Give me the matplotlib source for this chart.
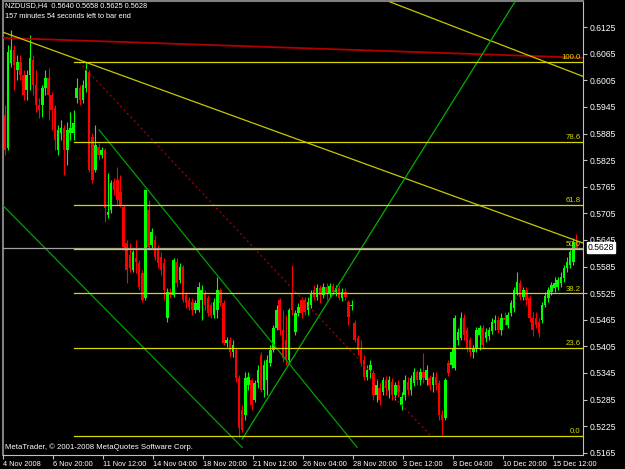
import matplotlib
matplotlib.use("Agg")
import matplotlib.pyplot as plt
import matplotlib.transforms as mtransforms

# NZDUSD H4 candles, bar 0 = 4 Nov 2008 00:00
opens = [
	0.5927, 0.5852, 0.6044, 0.6073, 0.6028, 0.6046, 0.6017, 0.5983, 0.6017, 0.6051,
	0.5994, 0.5949, 0.5949, 0.5987, 0.6010, 0.5972, 0.5942, 0.5848, 0.5886, 0.5897,
	0.5848, 0.5886, 0.5886, 0.5965, 0.5987, 0.5960, 0.5987, 0.6023, 0.5877, 0.5802,
	0.5854, 0.5836, 0.5848, 0.5701, 0.5712, 0.5775, 0.5780, 0.5753, 0.5719, 0.5638,
	0.5611, 0.5577, 0.5604, 0.5593, 0.5570, 0.5514, 0.5712, 0.5633, 0.5645, 0.5622,
	0.5606, 0.5593, 0.5468, 0.5527, 0.5520, 0.5595, 0.5554, 0.5584, 0.5520, 0.5509,
	0.5505, 0.5487, 0.5487, 0.5509, 0.5525, 0.5514, 0.5498, 0.5475, 0.5487, 0.5532,
	0.5502, 0.5412, 0.5419, 0.5392, 0.5396, 0.5333, 0.5261, 0.5250, 0.5317, 0.5329,
	0.5284, 0.5322, 0.5385, 0.5306, 0.5329, 0.5367, 0.5396, 0.5446, 0.5509, 0.5442,
	0.5419, 0.5374, 0.5525, 0.5437, 0.5480, 0.5509, 0.5509, 0.5487, 0.5498, 0.5532,
	0.5516, 0.5536, 0.5520, 0.5538, 0.5525, 0.5541, 0.5527, 0.5536, 0.5514, 0.5527,
	0.5505, 0.5496, 0.5457, 0.5423, 0.5396, 0.5374, 0.5336, 0.5351, 0.5345, 0.5295,
	0.5311, 0.5302, 0.5329, 0.5306, 0.5324, 0.5295, 0.5317, 0.5272, 0.5295, 0.5324,
	0.5306, 0.5322, 0.5347, 0.5329, 0.5347, 0.5329, 0.5333, 0.5317, 0.5336, 0.5322,
	0.5250, 0.5243, 0.5367, 0.5363, 0.5356, 0.5419, 0.5423, 0.5469, 0.5442, 0.5419,
	0.5392, 0.5401, 0.5430, 0.5446, 0.5423, 0.5428, 0.5439, 0.5457, 0.5464, 0.5442,
	0.5469, 0.5453, 0.5480, 0.5491, 0.5525, 0.5548, 0.5516, 0.5532, 0.5514, 0.5469,
	0.5469, 0.5460, 0.5464, 0.5498, 0.5514, 0.5527, 0.5536, 0.5538, 0.5548, 0.5559,
	0.5581, 0.5588, 0.5595, 0.5640,
]
closes = [
	0.5848, 0.6069, 0.6073, 0.6039, 0.6046, 0.6017, 0.5972, 0.6017, 0.6055, 0.5994,
	0.5949, 0.5938, 0.5987, 0.6010, 0.5972, 0.5938, 0.5870, 0.5893, 0.5897, 0.5848,
	0.5893, 0.5897, 0.5908, 0.5987, 0.5960, 0.5994, 0.6028, 0.5802, 0.5780, 0.5859,
	0.5836, 0.5848, 0.5717, 0.5708, 0.5773, 0.5757, 0.5735, 0.5723, 0.5629, 0.5577,
	0.5581, 0.5617, 0.5595, 0.5538, 0.5509, 0.5757, 0.5629, 0.5663, 0.5606, 0.5593,
	0.5577, 0.5532, 0.5527, 0.5520, 0.5599, 0.5548, 0.5584, 0.5509, 0.5502, 0.5493,
	0.5487, 0.5502, 0.5538, 0.5532, 0.5498, 0.5480, 0.5475, 0.5505, 0.5532, 0.5502,
	0.5412, 0.5419, 0.5392, 0.5408, 0.5333, 0.5220, 0.5216, 0.5333, 0.5336, 0.5272,
	0.5322, 0.5351, 0.5306, 0.5363, 0.5374, 0.5396, 0.5446, 0.5487, 0.5442, 0.5378,
	0.5374, 0.5487, 0.5487, 0.5480, 0.5493, 0.5480, 0.5482, 0.5505, 0.5525, 0.5516,
	0.5536, 0.5520, 0.5538, 0.5525, 0.5541, 0.5527, 0.5536, 0.5514, 0.5527, 0.5516,
	0.5471, 0.5498, 0.5419, 0.5396, 0.5367, 0.5336, 0.5351, 0.5363, 0.5295, 0.5317,
	0.5284, 0.5329, 0.5311, 0.5329, 0.5295, 0.5317, 0.5302, 0.5290, 0.5329, 0.5306,
	0.5333, 0.5347, 0.5329, 0.5347, 0.5333, 0.5351, 0.5317, 0.5336, 0.5317, 0.5250,
	0.5239, 0.5329, 0.5345, 0.5392, 0.5469, 0.5437, 0.5469, 0.5430, 0.5401, 0.5392,
	0.5401, 0.5442, 0.5446, 0.5408, 0.5437, 0.5442, 0.5460, 0.5464, 0.5442, 0.5469,
	0.5464, 0.5475, 0.5502, 0.5532, 0.5550, 0.5516, 0.5532, 0.5509, 0.5469, 0.5442,
	0.5453, 0.5435, 0.5498, 0.5518, 0.5532, 0.5543, 0.5548, 0.5554, 0.5561, 0.5581,
	0.5595, 0.5617, 0.5640, 0.5628,
]
highs = [
	0.5949, 0.6084, 0.6118, 0.6084, 0.6062, 0.6062, 0.6028, 0.6028, 0.6107, 0.6062,
	0.6028, 0.5965, 0.5994, 0.6028, 0.6033, 0.5978, 0.5949, 0.5904, 0.5915, 0.5904,
	0.5911, 0.5933, 0.5938, 0.6010, 0.5994, 0.6005, 0.6046, 0.6028, 0.5886, 0.5904,
	0.5863, 0.5854, 0.5852, 0.5796, 0.5780, 0.5784, 0.5809, 0.5791, 0.5723, 0.5645,
	0.5638, 0.5622, 0.5645, 0.5599, 0.5577, 0.5757, 0.5735, 0.5672, 0.5656, 0.5633,
	0.5617, 0.5604, 0.5536, 0.5536, 0.5604, 0.5604, 0.5593, 0.5588, 0.5527, 0.5516,
	0.5514, 0.5509, 0.5550, 0.5543, 0.5532, 0.5520, 0.5505, 0.5514, 0.5561, 0.5536,
	0.5509, 0.5426, 0.5426, 0.5419, 0.5401, 0.5340, 0.5272, 0.5347, 0.5347, 0.5333,
	0.5329, 0.5363, 0.5392, 0.5374, 0.5385, 0.5408, 0.5453, 0.5498, 0.5514, 0.5487,
	0.5475, 0.5491, 0.5588, 0.5487, 0.5502, 0.5516, 0.5516, 0.5516, 0.5532, 0.5543,
	0.5545, 0.5543, 0.5548, 0.5548, 0.5548, 0.5548, 0.5543, 0.5543, 0.5536, 0.5536,
	0.5509, 0.5509, 0.5464, 0.5430, 0.5419, 0.5385, 0.5363, 0.5374, 0.5351, 0.5329,
	0.5322, 0.5336, 0.5338, 0.5338, 0.5333, 0.5324, 0.5329, 0.5302, 0.5340, 0.5336,
	0.5340, 0.5356, 0.5351, 0.5356, 0.5390, 0.5363, 0.5340, 0.5347, 0.5347, 0.5329,
	0.5261, 0.5333, 0.5374, 0.5401, 0.5475, 0.5446, 0.5482, 0.5478, 0.5448, 0.5426,
	0.5408, 0.5448, 0.5453, 0.5453, 0.5446, 0.5448, 0.5469, 0.5475, 0.5473, 0.5480,
	0.5482, 0.5482, 0.5509, 0.5538, 0.5572, 0.5554, 0.5538, 0.5538, 0.5520, 0.5482,
	0.5482, 0.5469, 0.5505, 0.5527, 0.5538, 0.5550, 0.5561, 0.5561, 0.5572, 0.5588,
	0.5606, 0.5622, 0.5649, 0.5658,
]
lows = [
	0.5836, 0.5848, 0.6035, 0.5983, 0.6005, 0.6005, 0.5960, 0.5960, 0.5983, 0.5972,
	0.5933, 0.5920, 0.5922, 0.5972, 0.5915, 0.5893, 0.5848, 0.5836, 0.5870, 0.5791,
	0.5814, 0.5870, 0.5870, 0.5954, 0.5949, 0.5954, 0.5978, 0.5798, 0.5773, 0.5798,
	0.5825, 0.5830, 0.5685, 0.5694, 0.5705, 0.5746, 0.5723, 0.5719, 0.5622, 0.5548,
	0.5572, 0.5572, 0.5570, 0.5532, 0.5505, 0.5509, 0.5622, 0.5627, 0.5599, 0.5581,
	0.5566, 0.5509, 0.5460, 0.5514, 0.5516, 0.5538, 0.5548, 0.5505, 0.5491, 0.5487,
	0.5475, 0.5480, 0.5482, 0.5464, 0.5487, 0.5473, 0.5469, 0.5469, 0.5469, 0.5496,
	0.5408, 0.5403, 0.5381, 0.5381, 0.5324, 0.5200, 0.5211, 0.5239, 0.5306, 0.5261,
	0.5279, 0.5311, 0.5302, 0.5290, 0.5295, 0.5360, 0.5392, 0.5442, 0.5430, 0.5369,
	0.5363, 0.5369, 0.5475, 0.5430, 0.5473, 0.5469, 0.5475, 0.5475, 0.5491, 0.5509,
	0.5509, 0.5502, 0.5514, 0.5509, 0.5516, 0.5520, 0.5518, 0.5509, 0.5507, 0.5509,
	0.5453, 0.5487, 0.5414, 0.5385, 0.5360, 0.5329, 0.5329, 0.5333, 0.5284, 0.5279,
	0.5272, 0.5295, 0.5295, 0.5288, 0.5284, 0.5284, 0.5290, 0.5261, 0.5284, 0.5295,
	0.5295, 0.5315, 0.5317, 0.5317, 0.5322, 0.5317, 0.5306, 0.5302, 0.5306, 0.5239,
	0.5205, 0.5239, 0.5338, 0.5356, 0.5351, 0.5408, 0.5419, 0.5419, 0.5392, 0.5383,
	0.5378, 0.5392, 0.5396, 0.5401, 0.5414, 0.5419, 0.5432, 0.5442, 0.5435, 0.5430,
	0.5453, 0.5446, 0.5473, 0.5482, 0.5520, 0.5509, 0.5509, 0.5498, 0.5460, 0.5428,
	0.5446, 0.5426, 0.5457, 0.5493, 0.5505, 0.5520, 0.5527, 0.5532, 0.5538, 0.5550,
	0.5572, 0.5581, 0.5588, 0.5625,
]

# time axis labels, one every 16 bars
time_labels = ["4 Nov 2008", "6 Nov 20:00", "11 Nov 12:00", "14 Nov 04:00",
	"18 Nov 20:00", "21 Nov 12:00", "26 Nov 04:00", "28 Nov 20:00",
	"3 Dec 12:00", "8 Dec 04:00", "10 Dec 20:00", "15 Dec 12:00"]
price_ticks = [0.6125, 0.6065, 0.6005, 0.5945, 0.5885, 0.5825, 0.5765, 0.5705,
	0.5645, 0.5585, 0.5525, 0.5465, 0.5405, 0.5345, 0.5285, 0.5225, 0.5165]

# fibonacci retracement between swing low and swing high
fib_low, fib_high = 0.5202, 0.6046
fib_start = 22.2
fib_levels = [0.0, 23.6, 38.2, 50.0, 61.8, 78.6, 100.0]

# trendlines: (bar0, price0, bar1, price1)
red_line    = (-1.5, 0.6101, 185.1, 0.6056)
yellow_a    = (-1.5, 0.6116, 185.1, 0.5638)
yellow_b    = (123.3, 0.6182, 185.1, 0.6014)
green_up    = (76.0, 0.5196, 163.3, 0.6182)
green_dn1   = (30.2, 0.5893, 112.8, 0.5177)
green_dn2   = (-0.8, 0.5724, 76.0, 0.5177)
red_dotted  = (23.8, 0.6046, 136.1, 0.5205)
bid = 0.5628

header1 = "NZDUSD,H4  0.5640 0.5658 0.5625 0.5628"
header2 = "157 minutes 54 seconds left to bar end"
footer = "MetaTrader, \u00a9 2001-2008 MetaQuotes Software Corp."

plt.rcParams["font.family"] = ["Liberation Sans", "DejaVu Sans"]

fig = plt.figure(figsize=(6.25, 4.69), dpi=100, facecolor="black")
ax = fig.add_axes([3/625, 1 - 455/469, 580/625, 454/469])
ax.set_facecolor("black")

# candles
x = list(range(len(closes)))
up = ["#00ff00" if c >= o else "#ff0000" for o, c in zip(opens, closes)]
ax.vlines(x, lows, highs, colors=up, linewidth=0.8, zorder=2)
bottoms = [min(o, c) for o, c in zip(opens, closes)]
heights = [max(abs(c - o), 0.00008) for o, c in zip(opens, closes)]
ax.bar(x, heights, bottom=bottoms, width=0.8, color=up, linewidth=0, zorder=3)

# trendlines
def tline(seg, **kw):
	ax.plot([seg[0], seg[2]], [seg[1], seg[3]], zorder=4, **kw)

tline(red_line, color="#b00000", lw=1.3)
tline(yellow_a, color="#c8c800", lw=0.9)
tline(yellow_b, color="#c8c800", lw=0.9)
tline(green_up, color="#00b000", lw=0.9)
tline(green_dn1, color="#00a000", lw=0.9)
tline(green_dn2, color="#00a000", lw=0.9)
tline(red_dotted, color="#b00000", lw=0.9, ls=(0, (1.5, 2.5)))

ax.axhline(bid, color="#a0a0a0", lw=0.9, zorder=4)

xmax = 185.1
for lvl in fib_levels:
	p = fib_low + (fib_high - fib_low) * lvl / 100
	ax.plot([fib_start, xmax], [p, p], color="#d8d800", lw=0.9, zorder=4)
	ax.text(184.3, p + 0.0002, f"{lvl:.1f}", color="#d8d800", fontsize=5.6,
		ha="right", va="bottom", zorder=5)

ax.set_xlim(-0.5, xmax)
ax.set_ylim(0.5160, 0.6184)

ax.set_xticks([16*k - 0.6 for k in range(len(time_labels))])
ax.set_xticklabels(time_labels, ha="left")
ax.yaxis.tick_right()
ax.set_yticks(price_ticks)
ax.set_yticklabels([f"{p:.4f}" for p in price_ticks])
ax.tick_params(axis="both", colors="#c0c0c0", labelcolor="white",
	length=3, width=0.8, pad=1.5)
ax.tick_params(axis="x", labelsize=5.3, pad=1)
ax.tick_params(axis="y", labelsize=6.2)
for side in ("right", "bottom"):
	ax.spines[side].set_color("#c0c0c0")
for side in ("left", "top"):
	ax.spines[side].set_color("#808080")
	ax.spines[side].set_linewidth(1.5)

# current price box
trans = mtransforms.blended_transform_factory(ax.transAxes, ax.transData)
ax.text(1.008, bid, f"{bid:.4f}", transform=trans, fontsize=6.2, color="black",
	ha="left", va="center", zorder=6,
	bbox=dict(boxstyle="square,pad=0.08", fc="white", ec="white"))

ax.text(0.003, 0.997, header1, transform=ax.transAxes, color="white",
	fontsize=5.3, ha="left", va="top")
ax.text(0.003, 0.973, header2, transform=ax.transAxes, color="white",
	fontsize=5.3, ha="left", va="top")
ax.text(0.003, 0.008, footer, transform=ax.transAxes, color="white",
	fontsize=5.6, ha="left", va="bottom")

fig.savefig("out.png", dpi=100, facecolor="black")
